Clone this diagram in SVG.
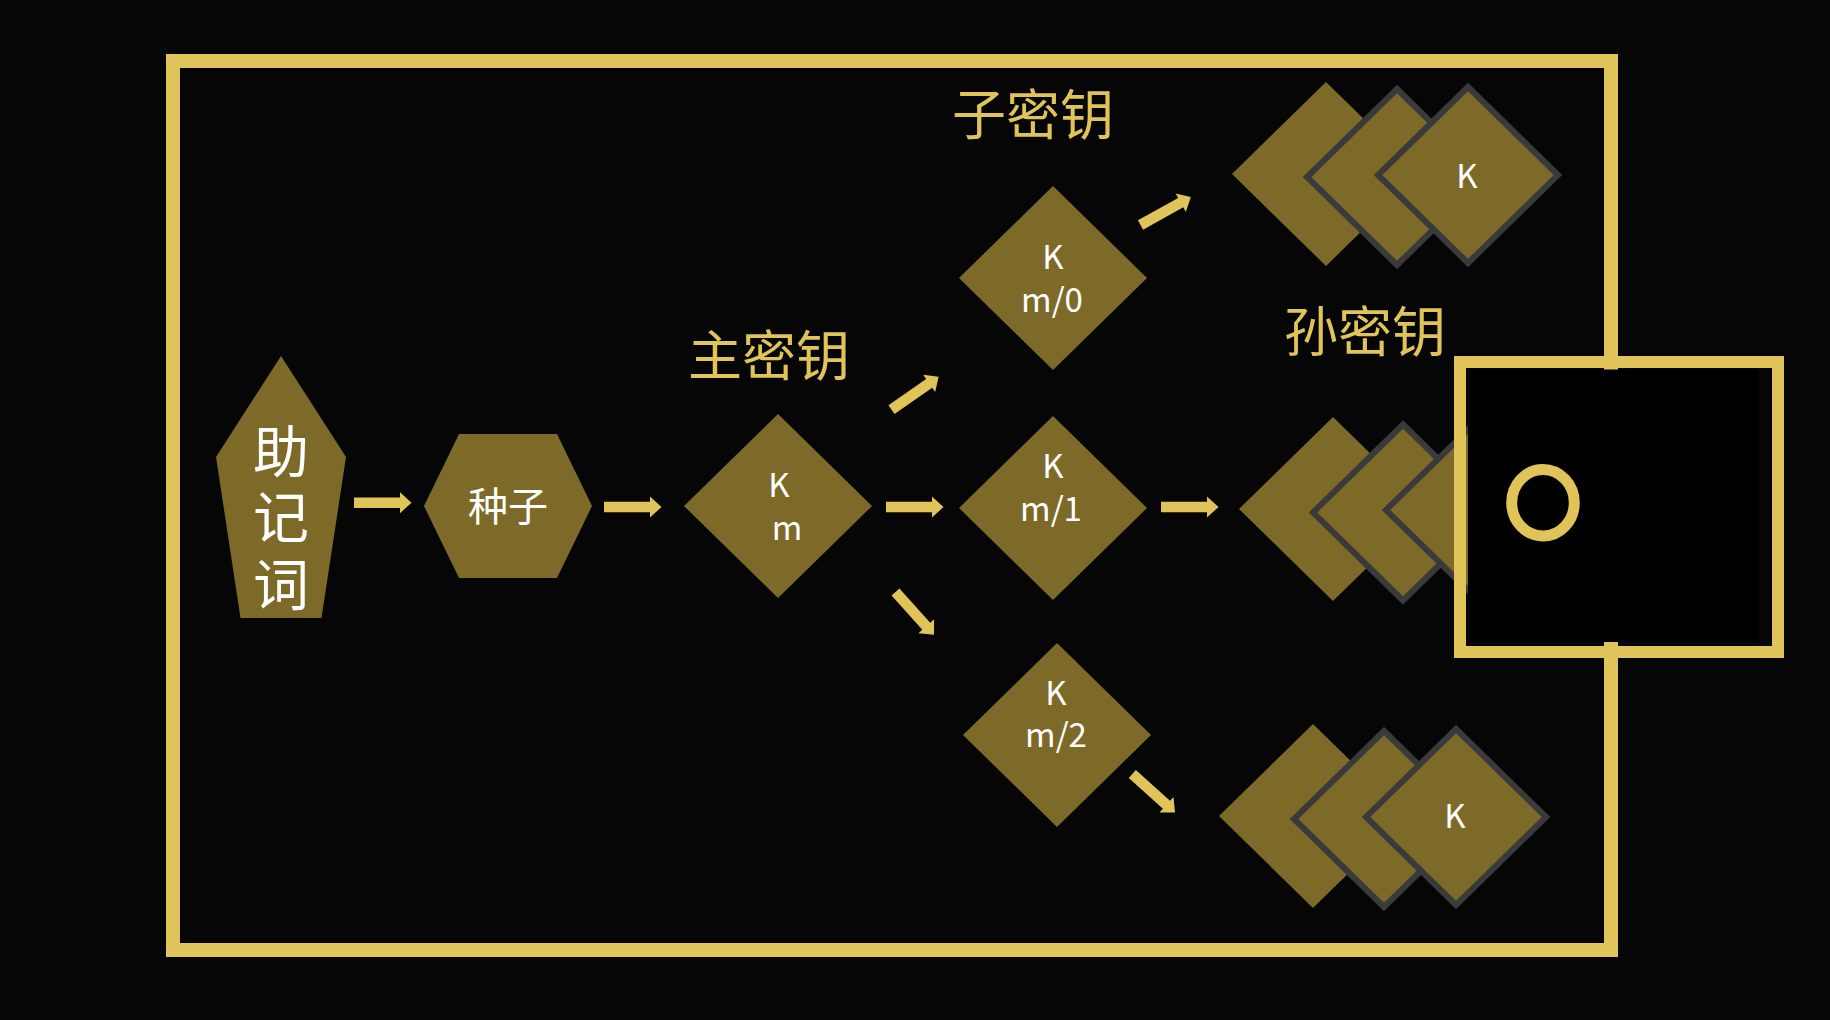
<svg xmlns="http://www.w3.org/2000/svg" width="1830" height="1020" viewBox="0 0 1830 1020">
  <style>
    .frame { fill: none; stroke: #E0C45A; stroke-width: 14; }
    .shape { fill: #7D6A29; }
    .back { fill: #7D6A29; stroke: #3A3A3A; stroke-width: 6; stroke-linejoin: miter; }
    .arrow { fill: #E0C45A; }
    .cjk { font-family: "Noto Sans CJK SC", "Noto Sans", sans-serif; }
    .title { fill: #E0C45A; font-size: 54px; text-anchor: middle; }
    .white { fill: #FFFFFF; text-anchor: middle; }
    .lbl { font-size: 33px; }
  </style>
  <defs>
    <!-- diamond used by key nodes and the front card of each stack -->
    <polygon id="gemL" points="0,-92 94,0 0,92 -94,0"/>
    <!-- slightly smaller diamond for outlined cards -->
    <polygon id="gem" points="0,-88 90,0 0,88 -90,0"/>
    <!-- block arrow, tail at origin, pointing along +x -->
    <path id="arr" d="M0,-5.3 H46 V-10.5 L57.5,0 L46,10.5 V5.3 H0 Z"/>
  </defs>

  <rect x="0" y="0" width="1830" height="1020" fill="#060606"/>

  <!-- outer frame -->
  <rect class="frame" x="173" y="61" width="1438" height="889"/>

  <!-- section titles -->
  <text class="cjk title" x="769" y="376">主密钥</text>
  <text class="cjk title" x="1033" y="135">子密钥</text>
  <text class="cjk title" x="1365" y="352">孙密钥</text>

  <g id="mnemonic">
    <polygon class="shape" points="281,356 346,457 321.5,618 240.5,618 216,457"/>
    <text class="cjk white" x="281" y="472" font-size="56">助</text>
    <text class="cjk white" x="281" y="538" font-size="56">记</text>
    <text class="cjk white" x="281" y="605" font-size="56">词</text>
  </g>

  <g id="seed">
    <polygon class="shape" points="424,506 459,434 557,434 592,506 557,578 459,578"/>
    <text class="cjk white" x="508" y="521" font-size="40">种子</text>
  </g>

  <g id="master-key">
    <use href="#gemL" class="shape" x="778" y="506"/>
    <text class="cjk white lbl" x="779" y="497">K</text>
    <text class="cjk white lbl" x="787" y="540">m</text>
  </g>

  <g id="child-0">
    <use href="#gemL" class="shape" x="1053" y="278"/>
    <text class="cjk white lbl" x="1053" y="269">K</text>
    <text class="cjk white lbl" x="1052" y="312">m/0</text>
  </g>

  <g id="child-1">
    <use href="#gemL" class="shape" x="1053" y="508"/>
    <text class="cjk white lbl" x="1053" y="478">K</text>
    <text class="cjk white lbl" x="1051" y="521">m/1</text>
  </g>

  <g id="child-2">
    <use href="#gemL" class="shape" x="1057" y="735"/>
    <text class="cjk white lbl" x="1056" y="705">K</text>
    <text class="cjk white lbl" x="1056" y="747">m/2</text>
  </g>

  <g id="grandchildren-0">
    <use href="#gemL" class="shape" x="1326" y="174"/>
    <use href="#gem" class="back" x="1397" y="177"/>
    <use href="#gem" class="back" x="1468" y="175"/>
    <text class="cjk white lbl" x="1467" y="188">K</text>
  </g>

  <g id="grandchildren-1">
    <use href="#gemL" class="shape" x="1333" y="509"/>
    <use href="#gem" class="back" x="1403" y="512.5"/>
    <use href="#gem" class="back" x="1476" y="510"/>
  </g>

  <g id="grandchildren-2">
    <use href="#gemL" class="shape" x="1313" y="816"/>
    <use href="#gem" class="back" x="1384" y="819"/>
    <use href="#gem" class="back" x="1456" y="817"/>
    <text class="cjk white lbl" x="1455" y="828">K</text>
  </g>

  <g id="connectors">
    <use href="#arr" class="arrow" transform="translate(354,502.7)"/>
    <use href="#arr" class="arrow" transform="translate(604,507)"/>
    <use href="#arr" class="arrow" transform="translate(886,507)"/>
    <use href="#arr" class="arrow" transform="translate(1161,507)"/>
    <use href="#arr" class="arrow" transform="translate(891.5,409.7) rotate(-35)"/>
    <use href="#arr" class="arrow" transform="translate(895.5,592) rotate(48)"/>
    <use href="#arr" class="arrow" transform="translate(1140.5,225) rotate(-29)"/>
    <use href="#arr" class="arrow" transform="translate(1132.3,774) rotate(42)"/>
  </g>

  <g id="overlay-box">
    <rect x="1468" y="369.5" width="290" height="272.5" fill="#000000"/>
    <rect x="1460" y="362" width="318" height="290" fill="none" stroke="#E0C45A" stroke-width="12"/>
    <ellipse cx="1543" cy="502.7" rx="31.3" ry="33.2" fill="none" stroke="#E0C45A" stroke-width="11"/>
  </g>
</svg>
